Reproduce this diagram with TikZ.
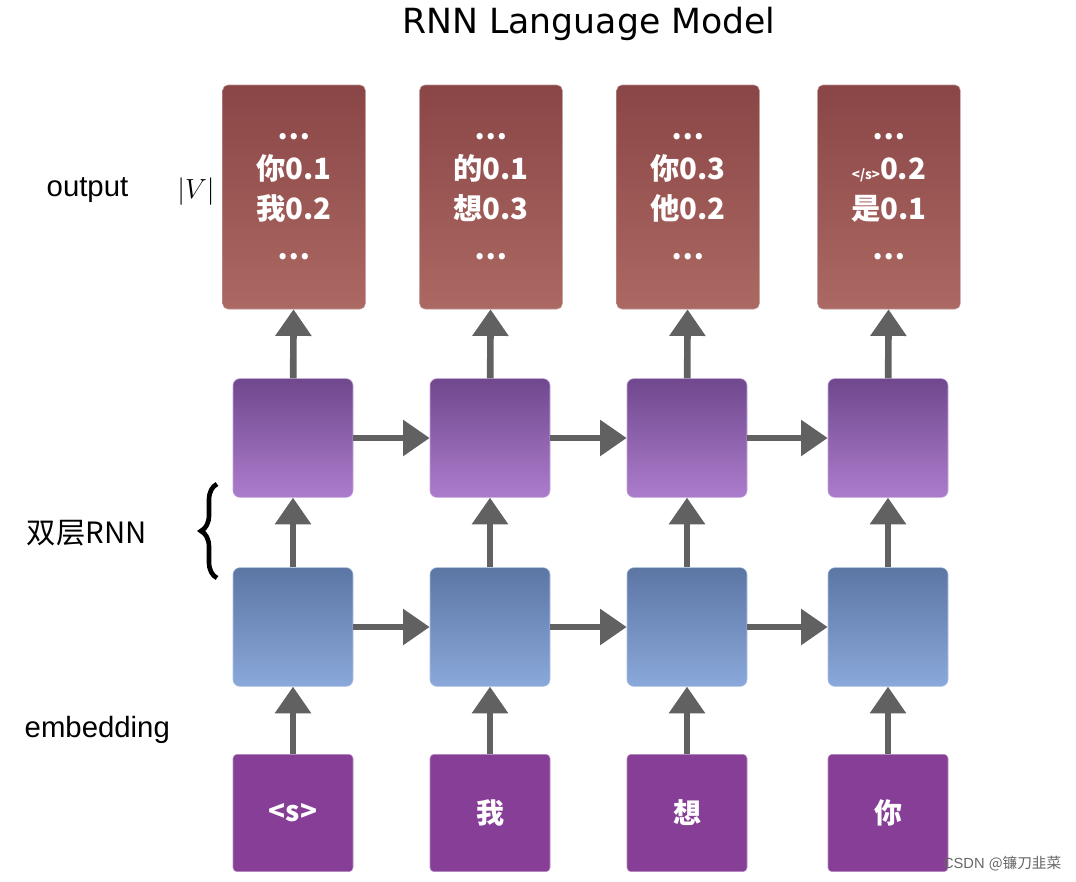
\documentclass[tikz,border=0pt]{standalone}
\usepackage{fontspec}
\setmainfont{Liberation Sans}
\newfontfamily\cjk{Noto Sans CJK SC}
\newfontfamily\ttl{DejaVu Sans}
\usetikzlibrary{arrows.meta,decorations.pathreplacing}
\definecolor{otop}{RGB}{138,70,70}
\definecolor{obot}{RGB}{172,104,98}
\definecolor{htop}{RGB}{112,72,142}
\definecolor{hbot}{RGB}{172,124,204}
\definecolor{ltop}{RGB}{92,118,164}
\definecolor{lbot}{RGB}{138,168,218}
\definecolor{inpc}{RGB}{135,62,150}
\begin{document}
\begin{tikzpicture}[x=0.75pt,y=-0.75pt,
 outb/.style={rounded corners=4pt,draw=otop!60!white,top color=otop,bottom color=obot,minimum width=107pt,minimum height=168pt,text=white,font=\cjk\bfseries\fontsize{22}{30}\selectfont,align=center},
 hid/.style={rounded corners=5pt,draw=hbot!70!white,top color=htop,bottom color=hbot,minimum width=90pt,minimum height=89pt},
 low/.style={rounded corners=5pt,draw=lbot!70!white,top color=ltop,bottom color=lbot,minimum width=90pt,minimum height=89pt},
 inp/.style={rounded corners=3pt,draw=inpc!60!white,fill=inpc,minimum width=90pt,minimum height=88pt,text=white,font=\cjk\bfseries\fontsize{21}{24}\selectfont},
 arr/.style={draw=black!62,line width=5pt,-{Triangle[length=20pt,width=26pt]}},
 lbl/.style={font=\fontsize{22}{24}\selectfont}]
\useasboundingbox (0,0) rectangle (1076,882);
\node[font=\ttl\fontsize{26}{30}\selectfont] (title) at (589,24) {RNN Language Model};
\foreach \i/\x/\a/\b in {1/293/你0.1/我0.2,2/490/的0.1/想0.3,3/687/你0.3/他0.2}{
 \node[outb] (o\i) at (\x+1,197) {…\\\a\\\b\\…};}
\node[outb] (o4) at (889,197) {…\\{\fontsize{10}{12}\selectfont</s>}0.2\\是0.1\\…};
\foreach \i/\x/\w in {1/293/<s>,2/490/我,3/687/想,4/888/你}{
 \node[hid] (h\i) at (\x,438) {};
 \node[low] (l\i) at (\x,627) {};
 \node[inp] (e\i) at (\x,813) {\w};
 \draw[arr] (e\i) -- (l\i);
 \draw[arr] (l\i) -- (h\i);
 \draw[arr] (h\i) -- (o\i);}
\foreach \a/\b in {1/2,2/3,3/4}{
 \draw[arr] (h\a) -- (h\b);
 \draw[arr] (l\a) -- (l\b);}
\node[lbl,anchor=west] (lo) at (42,190) {output};
\node[font=\fontsize{22}{24}\selectfont] (lv) at (196,192) {$|V|$};
\node[lbl,anchor=west,font=\cjk\fontsize{22}{24}\selectfont] (lr) at (22,533) {双层RNN};
\node[lbl,anchor=west] (le) at (20,730) {embedding};
\coordinate (bt) at (217,484);
\coordinate (bb) at (217,578);
\draw[line width=3.5pt,decorate,decoration={brace,amplitude=12pt}] (bb) -- (bt);
\node[font=\fontsize{11}{13}\selectfont,text=black!60,anchor=east] (wm) at (1066,864) {CSDN {\cjk @镰刀韭菜}};
\end{tikzpicture}
\end{document}
